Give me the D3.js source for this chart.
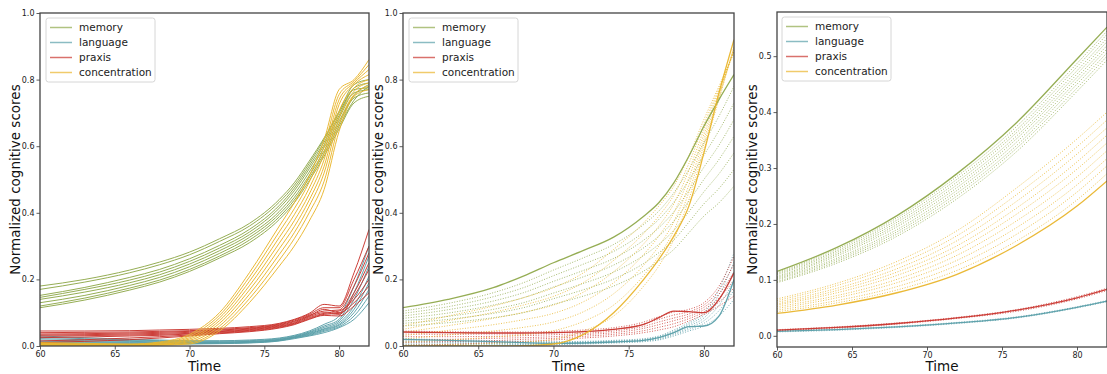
<!DOCTYPE html>
<html>
<head>
<meta charset="utf-8">
<script src="https://cdn.jsdelivr.net/npm/d3@7"></script>
<style>
    body { margin: 0; background: #fff; }
    svg { font-family: "DejaVu Sans", sans-serif; }
</style>
</head>
<body>
<svg id="chart" width="1107" height="374"></svg>
<script>
// ---- categories / colours ----
const categories = ['memory', 'language', 'praxis', 'concentration'];
const colors = ['#8fa94b', '#5a9fa9', '#c9352e', '#e9b52c'];

const xTicks = [60, 65, 70, 75, 80];
const yTicksFull = [0, 0.2, 0.4, 0.6, 0.8, 1.0];
const yTicksZoom = [0, 0.1, 0.2, 0.3, 0.4, 0.5];

// ---- panel 1 : individual trajectories (time grid t1) ----
const t1 = [60, 63, 66, 68, 70, 72, 74, 76, 77, 78, 79, 80, 81, 82];

const memory1 = [
    [0.180, 0.200, 0.228, 0.252, 0.282, 0.322, 0.368, 0.440, 0.490, 0.555, 0.625, 0.705, 0.785, 0.800],
    [0.170, 0.192, 0.220, 0.244, 0.274, 0.314, 0.360, 0.432, 0.482, 0.548, 0.620, 0.700, 0.775, 0.790],
    [0.152, 0.176, 0.206, 0.230, 0.262, 0.302, 0.350, 0.422, 0.474, 0.540, 0.612, 0.692, 0.770, 0.775],
    [0.146, 0.170, 0.198, 0.222, 0.254, 0.294, 0.342, 0.414, 0.466, 0.532, 0.604, 0.685, 0.760, 0.770],
    [0.140, 0.162, 0.190, 0.214, 0.246, 0.286, 0.334, 0.404, 0.456, 0.522, 0.596, 0.676, 0.752, 0.785],
    [0.130, 0.152, 0.182, 0.206, 0.238, 0.278, 0.326, 0.396, 0.446, 0.512, 0.586, 0.668, 0.745, 0.760],
    [0.120, 0.144, 0.174, 0.198, 0.230, 0.270, 0.318, 0.388, 0.438, 0.504, 0.578, 0.660, 0.738, 0.780],
    [0.115, 0.138, 0.168, 0.192, 0.224, 0.264, 0.310, 0.380, 0.430, 0.496, 0.570, 0.652, 0.730, 0.750]
];
const language1 = [
    [0.030, 0.025, 0.020, 0.018, 0.016, 0.016, 0.018, 0.024, 0.032, 0.045, 0.065, 0.090, 0.180, 0.300],
    [0.026, 0.022, 0.018, 0.016, 0.014, 0.014, 0.016, 0.022, 0.030, 0.042, 0.060, 0.080, 0.160, 0.270],
    [0.022, 0.019, 0.016, 0.014, 0.012, 0.012, 0.014, 0.020, 0.028, 0.040, 0.056, 0.075, 0.140, 0.240],
    [0.018, 0.016, 0.014, 0.012, 0.010, 0.011, 0.013, 0.019, 0.027, 0.038, 0.052, 0.070, 0.120, 0.210],
    [0.014, 0.013, 0.012, 0.010, 0.009, 0.010, 0.012, 0.018, 0.026, 0.036, 0.050, 0.065, 0.110, 0.190],
    [0.010, 0.010, 0.010, 0.009, 0.008, 0.009, 0.011, 0.017, 0.025, 0.034, 0.047, 0.062, 0.100, 0.170],
    [0.007, 0.008, 0.008, 0.007, 0.007, 0.008, 0.010, 0.016, 0.024, 0.032, 0.044, 0.058, 0.090, 0.150],
    [0.004, 0.005, 0.006, 0.006, 0.006, 0.007, 0.009, 0.015, 0.022, 0.030, 0.040, 0.055, 0.080, 0.130]
];
const praxis1 = [
    [0.045, 0.045, 0.046, 0.048, 0.050, 0.053, 0.058, 0.068, 0.080, 0.098, 0.125, 0.120, 0.220, 0.350],
    [0.040, 0.041, 0.042, 0.044, 0.046, 0.050, 0.055, 0.066, 0.078, 0.095, 0.115, 0.115, 0.200, 0.300],
    [0.036, 0.037, 0.039, 0.041, 0.044, 0.048, 0.053, 0.064, 0.075, 0.092, 0.105, 0.108, 0.180, 0.280],
    [0.033, 0.034, 0.036, 0.038, 0.041, 0.045, 0.051, 0.062, 0.073, 0.090, 0.110, 0.100, 0.160, 0.250],
    [0.030, 0.031, 0.033, 0.035, 0.038, 0.043, 0.049, 0.060, 0.070, 0.088, 0.100, 0.095, 0.150, 0.230],
    [0.025, 0.027, 0.030, 0.032, 0.036, 0.041, 0.047, 0.058, 0.068, 0.085, 0.098, 0.105, 0.140, 0.200],
    [0.015, 0.019, 0.024, 0.028, 0.033, 0.039, 0.045, 0.056, 0.066, 0.082, 0.095, 0.098, 0.130, 0.180],
    [0.010, 0.014, 0.019, 0.024, 0.030, 0.037, 0.043, 0.054, 0.064, 0.080, 0.092, 0.090, 0.120, 0.160]
];
const concentration1 = [
    [0.010, 0.008, 0.006, 0.012, 0.035, 0.100, 0.220, 0.360, 0.430, 0.510, 0.620, 0.770, 0.800, 0.860],
    [0.008, 0.006, 0.005, 0.010, 0.030, 0.092, 0.207, 0.343, 0.412, 0.492, 0.600, 0.755, 0.795, 0.845],
    [0.006, 0.005, 0.004, 0.008, 0.025, 0.084, 0.194, 0.326, 0.394, 0.474, 0.580, 0.740, 0.790, 0.830],
    [0.005, 0.004, 0.003, 0.006, 0.021, 0.076, 0.181, 0.309, 0.376, 0.456, 0.560, 0.725, 0.785, 0.815],
    [0.004, 0.003, 0.002, 0.005, 0.017, 0.068, 0.168, 0.292, 0.358, 0.438, 0.540, 0.705, 0.775, 0.800],
    [0.003, 0.002, 0.002, 0.004, 0.013, 0.060, 0.155, 0.275, 0.340, 0.420, 0.520, 0.685, 0.765, 0.790],
    [0.002, 0.002, 0.001, 0.003, 0.009, 0.052, 0.142, 0.258, 0.322, 0.400, 0.495, 0.665, 0.755, 0.780],
    [0.001, 0.001, 0.001, 0.002, 0.006, 0.045, 0.130, 0.240, 0.300, 0.375, 0.470, 0.645, 0.750, 0.770]
];

// ---- panel 2 : one solid trajectory + dotted ones (time grid t2) ----
const t2 = [60, 63, 66, 68, 70, 72, 74, 76, 77, 78, 79, 80, 81, 82];

const memory2Solid = [0.115, 0.140, 0.175, 0.210, 0.250, 0.287, 0.327, 0.390, 0.430, 0.490, 0.570, 0.660, 0.740, 0.815];
const language2Solid = [0.020, 0.017, 0.013, 0.010, 0.008, 0.009, 0.012, 0.017, 0.025, 0.040, 0.058, 0.060, 0.090, 0.200];
const praxis2Solid = [0.042, 0.040, 0.039, 0.039, 0.040, 0.043, 0.050, 0.065, 0.085, 0.105, 0.103, 0.100, 0.140, 0.220];
const concentration2Solid = [0.000, 0.000, 0.000, 0.001, 0.006, 0.035, 0.100, 0.200, 0.260, 0.330, 0.420, 0.580, 0.760, 0.920];

const memory2Dotted = [
    [0.105, 0.128, 0.160, 0.190, 0.228, 0.265, 0.305, 0.365, 0.405, 0.460, 0.530, 0.610, 0.690, 0.780],
    [0.098, 0.118, 0.148, 0.175, 0.211, 0.246, 0.284, 0.342, 0.380, 0.432, 0.498, 0.573, 0.647, 0.730],
    [0.090, 0.109, 0.135, 0.160, 0.194, 0.227, 0.263, 0.318, 0.355, 0.403, 0.467, 0.537, 0.603, 0.680],
    [0.083, 0.099, 0.123, 0.145, 0.177, 0.208, 0.243, 0.295, 0.330, 0.375, 0.435, 0.500, 0.560, 0.630],
    [0.075, 0.089, 0.110, 0.130, 0.159, 0.188, 0.222, 0.272, 0.305, 0.347, 0.403, 0.463, 0.517, 0.580],
    [0.068, 0.080, 0.098, 0.115, 0.142, 0.169, 0.201, 0.248, 0.280, 0.318, 0.372, 0.427, 0.473, 0.530],
    [0.060, 0.070, 0.085, 0.100, 0.125, 0.150, 0.180, 0.225, 0.255, 0.290, 0.340, 0.390, 0.430, 0.480]
];
const language2Dotted = [
    [0.022, 0.019, 0.016, 0.014, 0.013, 0.014, 0.017, 0.022, 0.030, 0.048, 0.070, 0.100, 0.170, 0.280],
    [0.018, 0.016, 0.013, 0.012, 0.011, 0.012, 0.015, 0.020, 0.028, 0.044, 0.065, 0.092, 0.154, 0.252],
    [0.014, 0.012, 0.011, 0.010, 0.009, 0.011, 0.014, 0.018, 0.025, 0.041, 0.060, 0.084, 0.138, 0.224],
    [0.009, 0.009, 0.008, 0.007, 0.008, 0.009, 0.012, 0.017, 0.023, 0.037, 0.055, 0.076, 0.122, 0.196],
    [0.005, 0.005, 0.006, 0.005, 0.006, 0.008, 0.011, 0.015, 0.020, 0.034, 0.050, 0.068, 0.106, 0.168],
    [0.001, 0.002, 0.003, 0.003, 0.004, 0.006, 0.009, 0.013, 0.018, 0.030, 0.045, 0.060, 0.090, 0.140]
];
const praxis2Dotted = [
    [0.045, 0.043, 0.042, 0.042, 0.044, 0.048, 0.055, 0.072, 0.088, 0.102, 0.110, 0.130, 0.180, 0.270],
    [0.036, 0.035, 0.036, 0.036, 0.039, 0.043, 0.050, 0.066, 0.080, 0.093, 0.103, 0.123, 0.168, 0.246],
    [0.028, 0.028, 0.029, 0.031, 0.034, 0.038, 0.045, 0.059, 0.072, 0.084, 0.096, 0.116, 0.156, 0.222],
    [0.019, 0.020, 0.023, 0.025, 0.028, 0.034, 0.040, 0.053, 0.064, 0.076, 0.089, 0.109, 0.144, 0.198],
    [0.011, 0.013, 0.016, 0.020, 0.023, 0.029, 0.035, 0.046, 0.056, 0.067, 0.082, 0.102, 0.132, 0.174],
    [0.002, 0.005, 0.010, 0.014, 0.018, 0.024, 0.030, 0.040, 0.048, 0.058, 0.075, 0.095, 0.120, 0.150]
];
const concentration2Dotted = [
    [0.060, 0.090, 0.120, 0.145, 0.175, 0.220, 0.290, 0.370, 0.420, 0.480, 0.570, 0.680, 0.780, 0.880],
    [0.050, 0.076, 0.101, 0.123, 0.149, 0.191, 0.257, 0.338, 0.390, 0.453, 0.548, 0.665, 0.773, 0.883],
    [0.041, 0.061, 0.083, 0.101, 0.123, 0.162, 0.223, 0.307, 0.360, 0.427, 0.527, 0.650, 0.767, 0.887],
    [0.031, 0.047, 0.064, 0.079, 0.098, 0.133, 0.190, 0.275, 0.330, 0.400, 0.505, 0.635, 0.760, 0.890],
    [0.021, 0.033, 0.045, 0.056, 0.072, 0.103, 0.157, 0.243, 0.300, 0.373, 0.483, 0.620, 0.753, 0.893],
    [0.012, 0.018, 0.027, 0.034, 0.046, 0.074, 0.123, 0.212, 0.270, 0.347, 0.462, 0.605, 0.747, 0.897],
    [0.002, 0.004, 0.008, 0.012, 0.020, 0.045, 0.090, 0.180, 0.240, 0.320, 0.440, 0.590, 0.740, 0.900]
];

// ---- panel 3 : smooth model curves (time grid t3) ----
const t3 = [60, 64, 68, 72, 76, 80, 82];

const memory3Solid = [0.115, 0.158, 0.215, 0.290, 0.382, 0.495, 0.552];
const language3Solid = [0.008, 0.011, 0.016, 0.023, 0.033, 0.051, 0.062];
const praxis3Solid = [0.010, 0.015, 0.022, 0.032, 0.046, 0.068, 0.083];
const concentration3Solid = [0.040, 0.055, 0.077, 0.110, 0.162, 0.232, 0.277];

const memory3Dotted = [
    [0.113, 0.155, 0.211, 0.285, 0.375, 0.487, 0.545],
    [0.111, 0.152, 0.207, 0.280, 0.369, 0.481, 0.539],
    [0.109, 0.149, 0.203, 0.275, 0.364, 0.474, 0.532],
    [0.106, 0.146, 0.199, 0.270, 0.358, 0.468, 0.526],
    [0.104, 0.143, 0.195, 0.265, 0.353, 0.462, 0.519],
    [0.102, 0.139, 0.190, 0.260, 0.347, 0.456, 0.513],
    [0.100, 0.136, 0.186, 0.255, 0.341, 0.450, 0.506],
    [0.097, 0.133, 0.182, 0.250, 0.336, 0.443, 0.500],
    [0.095, 0.130, 0.178, 0.245, 0.330, 0.437, 0.493]
];
const language3Dotted = [
    [0.007, 0.010, 0.015, 0.022, 0.032, 0.050, 0.061],
    [0.009, 0.012, 0.017, 0.024, 0.034, 0.052, 0.063]
];
const praxis3Dotted = [
    [0.009, 0.014, 0.021, 0.031, 0.044, 0.066, 0.081],
    [0.011, 0.016, 0.023, 0.033, 0.047, 0.070, 0.085]
];
const concentration3Dotted = [
    [0.066, 0.094, 0.133, 0.188, 0.265, 0.352, 0.400],
    [0.063, 0.090, 0.127, 0.179, 0.253, 0.338, 0.386],
    [0.060, 0.085, 0.120, 0.170, 0.241, 0.325, 0.372],
    [0.057, 0.081, 0.114, 0.161, 0.229, 0.311, 0.359],
    [0.055, 0.077, 0.108, 0.153, 0.218, 0.298, 0.345],
    [0.052, 0.072, 0.101, 0.144, 0.206, 0.284, 0.331],
    [0.049, 0.068, 0.095, 0.135, 0.194, 0.270, 0.317],
    [0.046, 0.063, 0.088, 0.126, 0.182, 0.257, 0.304],
    [0.043, 0.059, 0.082, 0.117, 0.170, 0.243, 0.290]
];

const svg = d3.select('#chart');

/**
 * Draws one axes box with its lines, ticks, labels and legend
 * @param cfg panel settings (position, domains and the line groups)
 */
function draw_panel(cfg) {
    let x = d3.scaleLinear().domain([60, 82]).range([cfg.left, cfg.right]);
    let y = d3.scaleLinear().domain(cfg.yDomain).range([cfg.bottom, cfg.top]);

    let clipId = 'clip_' + cfg.id;
    svg.append('clipPath').attr('id', clipId)
        .append('rect')
        .attr('x', cfg.left).attr('y', cfg.top)
        .attr('width', cfg.right - cfg.left).attr('height', cfg.bottom - cfg.top);

    let g = svg.append('g').attr('clip-path', 'url(#' + clipId + ')');

    let line = d3.line()
        .x(d => x(d[0]))
        .y(d => y(d[1]))
        .curve(d3.curveMonotoneX);

    // dotted first, solid on top
    cfg.groups.forEach(function (grp) {
        (grp.dotted || []).forEach(function (vals) {
            g.append('path')
                .datum(vals.map((v, i) => [cfg.time[i], v]))
                .attr('d', line)
                .attr('fill', 'none')
                .attr('stroke', colors[grp.cat])
                .attr('stroke-width', 1)
                .attr('stroke-opacity', 0.8)
                .attr('stroke-dasharray', '1,1.6');
        });
    });
    cfg.groups.forEach(function (grp) {
        (grp.solid || []).forEach(function (vals) {
            g.append('path')
                .datum(vals.map((v, i) => [cfg.time[i], v]))
                .attr('d', line)
                .attr('fill', 'none')
                .attr('stroke', colors[grp.cat])
                .attr('stroke-width', cfg.solidWidth)
                .attr('stroke-opacity', 0.95);
        });
    });

    // axes
    let xAxis = svg.append('g')
        .attr('transform', 'translate(0,' + cfg.bottom + ')')
        .call(d3.axisBottom(x).tickValues(xTicks).tickSize(3.5).tickPadding(1.5).tickFormat(d3.format('d')));
    let yAxis = svg.append('g')
        .attr('transform', 'translate(' + cfg.left + ',0)')
        .call(d3.axisLeft(y).tickValues(cfg.yTicks).tickSize(3.5).tickPadding(2).tickFormat(d3.format('.1f')));
    [xAxis, yAxis].forEach(function (a) {
        a.select('.domain').remove();
        a.selectAll('.tick line').attr('stroke', '#333').attr('stroke-width', 0.8);
        a.selectAll('.tick text').attr('fill', '#222').attr('font-size', 8)
            .attr('font-family', '"DejaVu Sans", sans-serif');
    });

    // spines
    svg.append('rect')
        .attr('x', cfg.left).attr('y', cfg.top)
        .attr('width', cfg.right - cfg.left).attr('height', cfg.bottom - cfg.top)
        .attr('fill', 'none')
        .attr('stroke', '#444')
        .attr('stroke-width', 1.3);

    // axis titles
    svg.append('text')
        .text('Time')
        .attr('x', (cfg.left + cfg.right) / 2)
        .attr('y', 371)
        .attr('text-anchor', 'middle')
        .attr('font-size', 13.5)
        .attr('fill', '#111');
    svg.append('text')
        .text('Normalized cognitive scores')
        .attr('text-anchor', 'middle')
        .attr('font-size', 13.5)
        .attr('fill', '#111')
        .attr('transform', 'translate(' + cfg.labelX + ',' + ((cfg.top + cfg.bottom) / 2) + ') rotate(-90)');

    add_legend(cfg.left + cfg.legendDx, cfg.top + 5);
}

/**
 * Legend box in the upper left corner of a panel
 * @param lx left edge of the box
 * @param ly top edge of the box
 */
function add_legend(lx, ly) {
    let lg = svg.append('g').attr('transform', 'translate(' + lx + ',' + ly + ')');
    lg.append('rect')
        .attr('width', 109).attr('height', 64)
        .attr('rx', 2.5)
        .attr('fill', 'white').attr('fill-opacity', 0.85)
        .attr('stroke', '#d6d6d6').attr('stroke-width', 1);

    categories.forEach(function (c, i) {
        let yy = 9.5 + i * 15;
        lg.append('line')
            .attr('x1', 4).attr('x2', 26)
            .attr('y1', yy).attr('y2', yy)
            .attr('stroke', colors[i])
            .attr('stroke-opacity', 0.7)
            .attr('stroke-width', 1.5);
        lg.append('text')
            .text(c)
            .attr('x', 33).attr('y', yy + 3.8)
            .attr('font-size', 10.5)
            .attr('fill', '#222');
    });
}

draw_panel({
    id: 'p1', left: 40, right: 369, top: 13, bottom: 346,
    yDomain: [0, 1], yTicks: yTicksFull, labelX: 20, legendDx: 6,
    time: t1, solidWidth: 1,
    groups: [
        {cat: 0, solid: memory1},
        {cat: 1, solid: language1},
        {cat: 2, solid: praxis1},
        {cat: 3, solid: concentration1}
    ]
});

draw_panel({
    id: 'p2', left: 403, right: 734, top: 13, bottom: 346,
    yDomain: [0, 1], yTicks: yTicksFull, labelX: 383, legendDx: 6,
    time: t2, solidWidth: 1.3,
    groups: [
        {cat: 0, solid: [memory2Solid], dotted: memory2Dotted},
        {cat: 1, solid: [language2Solid], dotted: language2Dotted},
        {cat: 2, solid: [praxis2Solid], dotted: praxis2Dotted},
        {cat: 3, solid: [concentration2Solid], dotted: concentration2Dotted}
    ]
});

draw_panel({
    id: 'p3', left: 777, right: 1107, top: 12, bottom: 347,
    yDomain: [-0.02, 0.579], yTicks: yTicksZoom, labelX: 757, legendDx: 5,
    time: t3, solidWidth: 1.3,
    groups: [
        {cat: 0, solid: [memory3Solid], dotted: memory3Dotted},
        {cat: 1, solid: [language3Solid], dotted: language3Dotted},
        {cat: 2, solid: [praxis3Solid], dotted: praxis3Dotted},
        {cat: 3, solid: [concentration3Solid], dotted: concentration3Dotted}
    ]
});
</script>
</body>
</html>
